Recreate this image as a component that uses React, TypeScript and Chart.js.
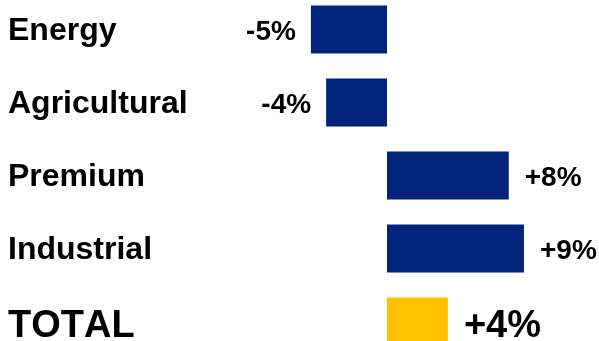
import React, { useEffect, useRef } from "react";
import { Chart, registerables } from "chart.js";

Chart.register(...registerables);

const categories = ["Energy", "Agricultural", "Premium", "Industrial", "TOTAL"];
const values = [-5, -4, 8, 9, 4];
const barColors = ["#00237B", "#00237B", "#00237B", "#00237B", "#FFC000"];

const FONT = "'Liberation Sans', Arial, sans-serif";

const labelPlugin = {
  id: "labelPlugin",
  afterDatasetsDraw(chart: any) {
    const ctx = chart.ctx;
    const yScale = chart.scales.y;
    const meta = chart.getDatasetMeta(0);
    ctx.save();
    ctx.fillStyle = "#000";
    ctx.textBaseline = "alphabetic";
    try { (ctx as any).fontKerning = "none"; } catch (e) {}
    categories.forEach((cat, i) => {
      const y = yScale.getPixelForValue(i);
      const isTotal = i === categories.length - 1;
      ctx.font = `bold ${isTotal ? 38 : 32}px ${FONT}`;
      ctx.textAlign = "left";
      ctx.fillText(cat, 8, y + (isTotal ? 15 : 10.5));
      const v = values[i];
      const txt = (v > 0 ? "+" : "") + v + "%";
      ctx.font = `bold ${isTotal ? 38 : 28}px ${FONT}`;
      const bar = meta.data[i];
      const by = y + (isTotal ? 15 : 10);
      if (v < 0) {
        ctx.textAlign = "right";
        ctx.fillText(txt, bar.x - 15, by);
      } else {
        ctx.textAlign = "left";
        ctx.fillText(txt, bar.x + 16, by);
      }
    });
    ctx.restore();
  },
};

export default function App() {
  const ref = useRef<HTMLCanvasElement>(null);
  useEffect(() => {
    if (!ref.current) return;
    const chart = new Chart(ref.current, {
      type: "bar",
      data: {
        labels: categories,
        datasets: [
          {
            data: values,
            backgroundColor: barColors,
            borderWidth: 0,
            barPercentage: 0.66,
            categoryPercentage: 1,
          },
        ],
      },
      options: {
        indexAxis: "y",
        animation: false,
        responsive: true,
        maintainAspectRatio: false,
        layout: { padding: 0 },
        plugins: { legend: { display: false }, tooltip: { enabled: false } },
        scales: {
          x: { display: false, min: -25.43, max: 13.93 },
          y: { display: false },
        },
      },
      plugins: [labelPlugin],
    });
    return () => chart.destroy();
  }, []);
  return (
    <div style={{ position: "fixed", left: 0, top: 0, width: 599, height: 341, overflow: "hidden", background: "#fff" }}>
      <div style={{ position: "absolute", left: 0, top: -7, width: 599, height: 365 }}>
        <canvas ref={ref} />
      </div>
    </div>
  );
}
